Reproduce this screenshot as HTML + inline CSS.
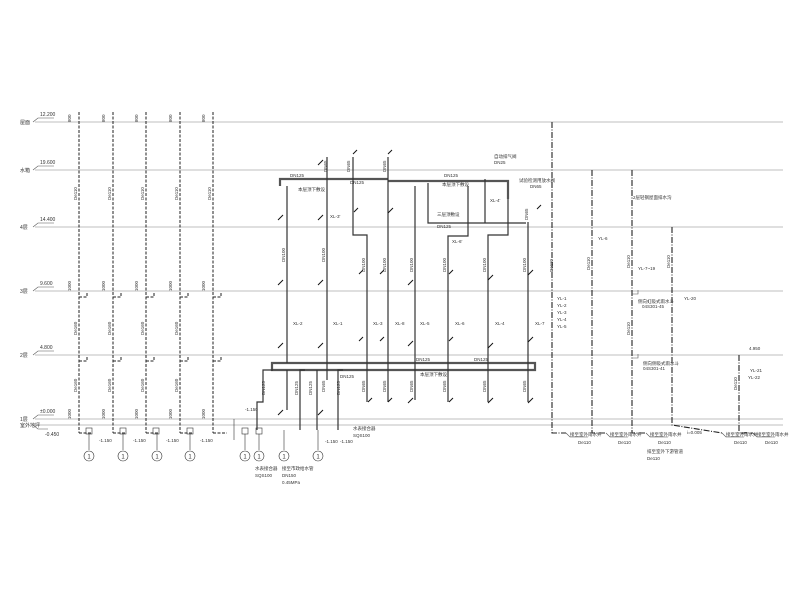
<!DOCTYPE html>
<html><head><meta charset="utf-8"><style>
html,body{margin:0;padding:0;background:#fff;}
svg{display:block;}
text{font-family:"Liberation Sans","Noto Sans CJK SC",sans-serif;fill:#333;}
</style></head><body>
<svg width="800" height="600" viewBox="0 0 800 600" xmlns="http://www.w3.org/2000/svg">
<rect width="800" height="600" fill="#fff"/>
<!-- floor lines -->
<g stroke="#aaa" stroke-width="0.8">
<line x1="35" y1="122" x2="783" y2="122"/>
<line x1="35" y1="170" x2="783" y2="170"/>
<line x1="35" y1="227" x2="783" y2="227"/>
<line x1="35" y1="291" x2="783" y2="291"/>
<line x1="35" y1="355" x2="783" y2="355"/>
<line x1="35" y1="419" x2="783" y2="419"/>
<line x1="35" y1="425" x2="783" y2="425"/>
</g>
<!-- level labels -->
<g font-size="5">
<text x="20" y="124">屋面</text><text x="40" y="116">12.200</text>
<text x="20" y="172">水箱</text><text x="40" y="164">19.600</text>
<text x="20" y="229">4层</text><text x="40" y="221">14.400</text>
<text x="20" y="293">3层</text><text x="40" y="285">9.600</text>
<text x="20" y="357">2层</text><text x="40" y="349">4.800</text>
<text x="20" y="421">1层</text><text x="40" y="413">±0.000</text>
<text x="20" y="427">室外地坪</text><text x="45" y="436">-0.450</text>
</g>
<g stroke="#555" stroke-width="0.6" fill="none">
<path d="M33,122 l5,-4 h16"/><path d="M33,170 l5,-4 h16"/><path d="M33,227 l5,-4 h16"/>
<path d="M33,291 l5,-4 h16"/><path d="M33,355 l5,-4 h16"/><path d="M33,419 l5,-4 h16"/><path d="M33,425 l5,4 h10"/>
</g>
<!-- left dashed risers -->
<g stroke="#222" stroke-width="1" stroke-dasharray="3,1.5" fill="none">
<line x1="79" y1="112" x2="79" y2="433"/><line x1="113" y1="112" x2="113" y2="433"/>
<line x1="146" y1="112" x2="146" y2="433"/><line x1="180" y1="112" x2="180" y2="433"/>
<line x1="213" y1="112" x2="213" y2="433"/>
<path d="M79,433 h12"/><path d="M113,433 h12"/><path d="M146,433 h12"/><path d="M180,433 h12"/><path d="M213,433 h14"/>
<path d="M79,297 h8 v-4"/><path d="M113,297 h8 v-4"/><path d="M146,297 h8 v-4"/><path d="M180,297 h8 v-4"/><path d="M213,297 h8 v-4"/>
<path d="M79,361 h8 v-4"/><path d="M113,361 h8 v-4"/><path d="M146,361 h8 v-4"/><path d="M180,361 h8 v-4"/><path d="M213,361 h8 v-4"/>
</g>
<g font-size="4.5" fill="#333">
<g transform="rotate(-90)">
<text x="-200" y="77">De110</text><text x="-200" y="111">De110</text><text x="-200" y="144">De110</text><text x="-200" y="178">De110</text><text x="-200" y="211">De110</text>
<text x="-335" y="77">De160</text><text x="-335" y="111">De160</text><text x="-335" y="144">De160</text><text x="-335" y="178">De160</text>
<text x="-392" y="77">De160</text><text x="-392" y="111">De160</text><text x="-392" y="144">De160</text><text x="-392" y="178">De160</text>
<text x="-122" y="71">800</text><text x="-122" y="105">800</text><text x="-122" y="138">800</text><text x="-122" y="172">800</text><text x="-122" y="205">800</text>
<text x="-291" y="71">1000</text><text x="-291" y="105">1000</text><text x="-291" y="138">1000</text><text x="-291" y="172">1000</text><text x="-291" y="205">1000</text>
<text x="-419" y="71">1000</text><text x="-419" y="105">1000</text><text x="-419" y="138">1000</text><text x="-419" y="172">1000</text><text x="-419" y="205">1000</text>
</g>
<text x="99" y="442">-1.150</text><text x="133" y="442">-1.150</text><text x="166" y="442">-1.150</text><text x="200" y="442">-1.150</text>
<text x="245" y="411">-1.150</text><text x="325" y="443">-1.150</text><text x="340" y="443">-1.150</text>
</g>
<!-- small valves under left risers -->
<g stroke="#333" stroke-width="0.6" fill="none">
<rect x="86" y="428" width="6" height="6"/><rect x="120" y="428" width="6" height="6"/><rect x="153" y="428" width="6" height="6"/><rect x="187" y="428" width="6" height="6"/>
<rect x="242" y="428" width="6" height="6"/><rect x="256" y="428" width="6" height="6"/>
<line x1="89" y1="434" x2="89" y2="450"/><line x1="123" y1="434" x2="123" y2="450"/><line x1="157" y1="434" x2="157" y2="450"/><line x1="190" y1="434" x2="190" y2="450"/>
<line x1="245" y1="434" x2="245" y2="450"/><line x1="259" y1="434" x2="259" y2="450"/>
<line x1="234" y1="419" x2="234" y2="440"/><line x1="284" y1="430" x2="284" y2="450"/><line x1="318" y1="430" x2="318" y2="450"/>
<circle cx="89" cy="456" r="5"/><circle cx="123" cy="456" r="5"/><circle cx="157" cy="456" r="5"/><circle cx="190" cy="456" r="5"/>
<circle cx="245" cy="456" r="5"/><circle cx="259" cy="456" r="5"/><circle cx="284" cy="456" r="5"/><circle cx="318" cy="456" r="5"/>
</g>
<g font-size="6" text-anchor="middle"><text x="89" y="458.5">1</text><text x="123" y="458.5">1</text><text x="157" y="458.5">1</text><text x="190" y="458.5">1</text><text x="245" y="458.5">1</text><text x="259" y="458.5">1</text><text x="284" y="458.5">1</text><text x="318" y="458.5">1</text></g>
<g font-size="4.5"><text x="255" y="470">水表接合器</text><text x="255" y="477">SQS100</text>
<text x="282" y="470">接至市政给水管</text><text x="282" y="477">DN150</text><text x="282" y="484">0.45MPa</text>
<text x="353" y="430">水表接合器</text><text x="353" y="437">SQS100</text></g>

<!-- middle system -->
<g stroke="#555" stroke-width="2.2" fill="none">
<path d="M280,186 v-7 h108"/><path d="M388,181 h120 v18"/>
<path d="M272,363 h263 v7 h-263 z"/>
</g>
<g stroke="#333" stroke-width="1.2" fill="none">
<line x1="287" y1="186" x2="287" y2="363"/>
<line x1="327" y1="157" x2="327" y2="380"/>
<path d="M353,157 v78 h14 v167"/>
<line x1="388" y1="157" x2="388" y2="402"/>
<line x1="415" y1="186" x2="415" y2="400"/>
<path d="M468,186 v50 h-20 v166"/>
<path d="M508,199 v36 h-20 v167"/>
<path d="M428,183 v40 h98"/><line x1="485" y1="179" x2="485" y2="223"/>
<line x1="528" y1="222" x2="528" y2="402"/>
<path d="M273,370 h-10 v32 h-6 v28"/><path d="M305,370 h-5 v60"/><path d="M317,370 v60"/><path d="M343,370 h-5 v60"/>
<path d="M287,370 v40"/>
</g>
<!-- sprinkler branch ticks -->
<g stroke="#111" stroke-width="1" fill="none">
<path d="M283,215 l-5,5"/><path d="M323,215 l-5,5"/><path d="M358,208 l-4,4"/><path d="M393,208 l-5,5"/>
<path d="M283,280 l-5,5"/><path d="M323,280 l-5,5"/><path d="M363,270 l-4,4"/><path d="M384,270 l-4,4"/><path d="M413,280 l-5,5"/><path d="M453,270 l-4,4"/><path d="M493,275 l-5,5"/><path d="M533,270 l-5,5"/>
<path d="M283,343 l-5,5"/><path d="M323,343 l-5,5"/><path d="M363,337 l-4,4"/><path d="M384,337 l-4,4"/><path d="M413,341 l-5,5"/><path d="M453,337 l-4,4"/><path d="M493,343 l-5,5"/><path d="M533,337 l-5,5"/>
<path d="M372,398 l-4,4"/><path d="M392,398 l-4,4"/><path d="M413,398 l-5,5"/><path d="M453,398 l-4,4"/><path d="M493,398 l-5,5"/><path d="M533,398 l-5,5"/>
<path d="M323,160 l-5,5"/><path d="M357,150 l-4,4"/><path d="M392,150 l-4,4"/><path d="M541,205 l-4,4"/>
<path d="M283,410 l-5,5"/><path d="M323,410 l-5,5"/>
</g>
<g font-size="4.5">
<text x="290" y="177">DN125</text><text x="444" y="177">DN125</text><text x="350" y="184">DN125</text><text x="437" y="228">DN125</text>
<text x="416" y="361">DN125</text><text x="474" y="361">DN125</text><text x="340" y="378">DN125</text>
<text x="298" y="191">本层顶下敷设</text><text x="442" y="186">本层顶下敷设</text><text x="437" y="216">三层顶敷设</text><text x="420" y="376">本层顶下敷设</text>
<text x="494" y="158">自动排气阀</text><text x="494" y="164">DN25</text><text x="519" y="182">试验检测用放水阀</text><text x="530" y="188">DN65</text>
<text x="330" y="218">XL-3'</text><text x="490" y="202">XL-4'</text><text x="452" y="243">XL-6'</text>
<text x="293" y="325">XL-2</text><text x="333" y="325">XL-1</text><text x="373" y="325">XL-3</text><text x="395" y="325">XL-8</text><text x="420" y="325">XL-5</text><text x="455" y="325">XL-6</text><text x="495" y="325">XL-4</text><text x="535" y="325">XL-7</text>
<g transform="rotate(-90)">
<text x="-262" y="285">DN100</text><text x="-262" y="325">DN100</text><text x="-272" y="365">DN100</text><text x="-272" y="386">DN100</text><text x="-272" y="413">DN100</text><text x="-272" y="446">DN100</text><text x="-272" y="486">DN100</text><text x="-272" y="526">DN100</text><text x="-272" y="553">De110</text>
<text x="-395" y="265">DN125</text><text x="-395" y="298">DN125</text><text x="-395" y="312">DN125</text><text x="-395" y="340">DN125</text>
<text x="-392" y="365">DN65</text><text x="-392" y="386">DN65</text><text x="-392" y="413">DN65</text><text x="-392" y="446">DN65</text><text x="-392" y="486">DN65</text><text x="-392" y="526">DN65</text><text x="-392" y="325">DN65</text>
<text x="-172" y="327">DN65</text><text x="-172" y="350">DN65</text><text x="-172" y="386">DN65</text><text x="-220" y="528">DN65</text>
</g></g>

<!-- right dash-dot risers -->
<g stroke="#222" stroke-width="1.1" stroke-dasharray="6,1.5,1,1.5" fill="none">
<path d="M552,122 V433 h14"/><path d="M592,170 V433 h14"/><path d="M632,170 V433 h14"/>
<path d="M672,227 V425 l50,8"/><path d="M739,355 V433 h14"/>
</g>
<g stroke="#555" stroke-width="0.6" fill="none">
<path d="M566,433 l4,4 h18"/><path d="M606,433 l4,4 h18"/><path d="M646,433 l4,4 h18"/><path d="M722,433 l4,4 h18"/><path d="M753,433 l4,4 h18"/>
<path d="M632,294 h6 v-4"/><path d="M632,358 h6 v-4"/>
</g>
<g font-size="4.5">
<text x="570" y="436">接至室外雨水井</text><text x="578" y="444">De110</text>
<text x="610" y="436">接至室外雨水井</text><text x="618" y="444">De110</text>
<text x="650" y="436">接至室外雨水井</text><text x="658" y="444">De110</text>
<text x="726" y="436">接至室外雨水井</text><text x="734" y="444">De110</text>
<text x="757" y="436">接至室外雨水井</text><text x="765" y="444">De110</text>
<text x="647" y="453">排至室外下游管道</text><text x="647" y="460">De110</text><text x="687" y="434">i=0.005</text>
<text x="633" y="199">2层轻钢屋面排水沟</text>
<text x="598" y="240">YL-6</text><text x="638" y="270">YL-7~19</text><text x="684" y="300">YL-20</text>
<text x="557" y="300">YL-1</text><text x="557" y="307">YL-2</text><text x="557" y="314">YL-3</text><text x="557" y="321">YL-4</text><text x="557" y="328">YL-5</text>
<text x="638" y="303">侧向虹吸式雨水斗</text><text x="642" y="308">04S301-45</text>
<text x="643" y="365">侧向侧吸式雨水斗</text><text x="643" y="370">04S301-41</text>
<text x="750" y="372">YL-21</text><text x="748" y="379">YL-22</text><text x="749" y="350">4.950</text>
<g transform="rotate(-90)"><text x="-270" y="590">De110</text><text x="-268" y="630">De110</text><text x="-268" y="670">De110</text><text x="-335" y="630">De110</text><text x="-390" y="737">De110</text></g>
</g>
</svg>
</body></html>
